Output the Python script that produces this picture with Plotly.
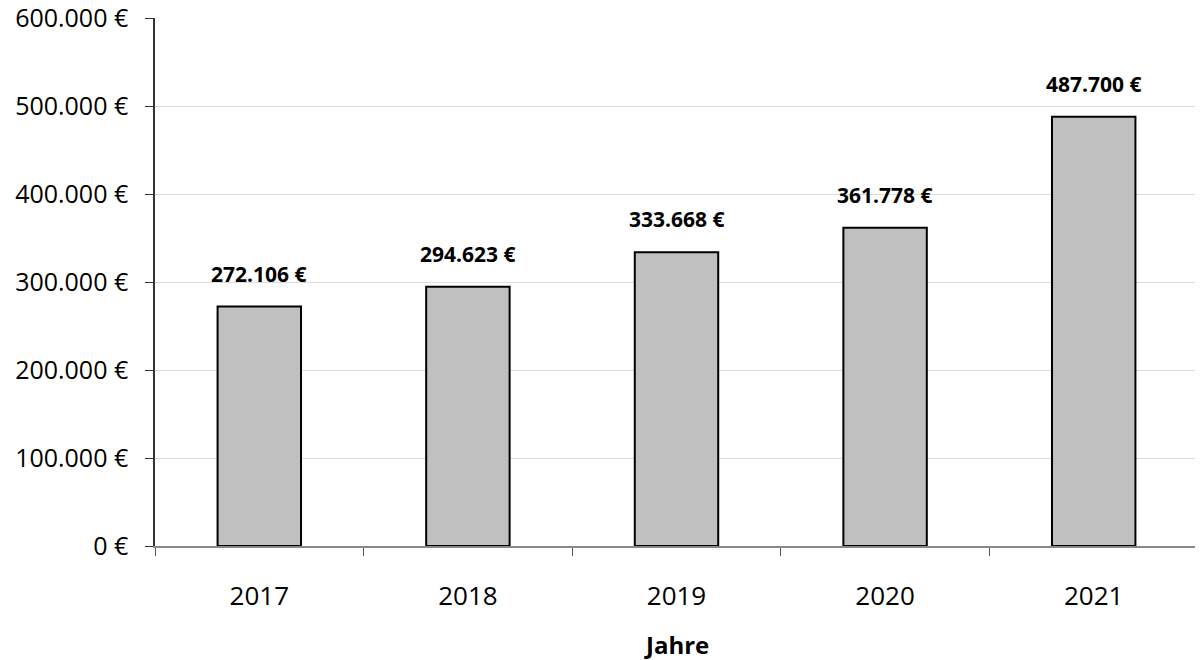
import plotly.graph_objects as go

jahre = ["2017", "2018", "2019", "2020", "2021"]
umsatz = [272106, 294623, 333668, 361778, 487700]
y_ticks = [0, 100000, 200000, 300000, 400000, 500000, 600000]
y_labels = ["0 €", "100.000 €", "200.000 €", "300.000 €", "400.000 €", "500.000 €", "600.000 €"]


def euro(v):
    return f"{v:,}".replace(",", ".") + " €"


font = "Open Sans"

fig = go.Figure(go.Bar(
    x=jahre, y=umsatz,
    marker=dict(color="#c0c0c0", line=dict(color="black", width=2)),
    width=0.4,
))

# annotations on a category axis take the index, not the label
for i, v in enumerate(umsatz):
    fig.add_annotation(x=i, y=v, text="<b>" + euro(v) + "</b>", showarrow=False,
                       yanchor="bottom", yshift=17,
                       font=dict(family=font, size=21, color="black"))

fig.add_annotation(x=0.5, y=-0.186, xref="paper", yref="paper", text="<b>Jahre</b>",
                   showarrow=False, yanchor="middle", borderpad=0,
                   font=dict(family=font, size=24, color="black"))

# page body has an 8px margin, so the figure is a bit smaller than the window
fig.update_layout(
    width=1195, height=652,
    margin=dict(l=147, r=5, t=10, b=114),
    plot_bgcolor="white", paper_bgcolor="white",
    showlegend=False,
    font=dict(family=font, size=26, color="black"),
)
fig.update_xaxes(
    type="category", range=[-0.5, 4.5], automargin=False,
    showline=True, linecolor="#888888", linewidth=1.5,
    ticks="outside", tickson="boundaries", ticklen=8, tickcolor="#555555",
    showgrid=False, tickfont=dict(size=26), tickangle=0, ticklabelstandoff=26,
)
fig.update_yaxes(
    range=[0, 600000], tickmode="array", tickvals=y_ticks, ticktext=y_labels,
    automargin=False,
    showline=True, linecolor="#333333", linewidth=1.5,
    ticks="outside", ticklen=8, tickcolor="#333333",
    showgrid=True, gridcolor="#dcdcdc", gridwidth=1, zeroline=False,
    tickfont=dict(size=25), ticklabelstandoff=12, ticklabeloverflow="allow",
)

fig.write_html("out.html")
